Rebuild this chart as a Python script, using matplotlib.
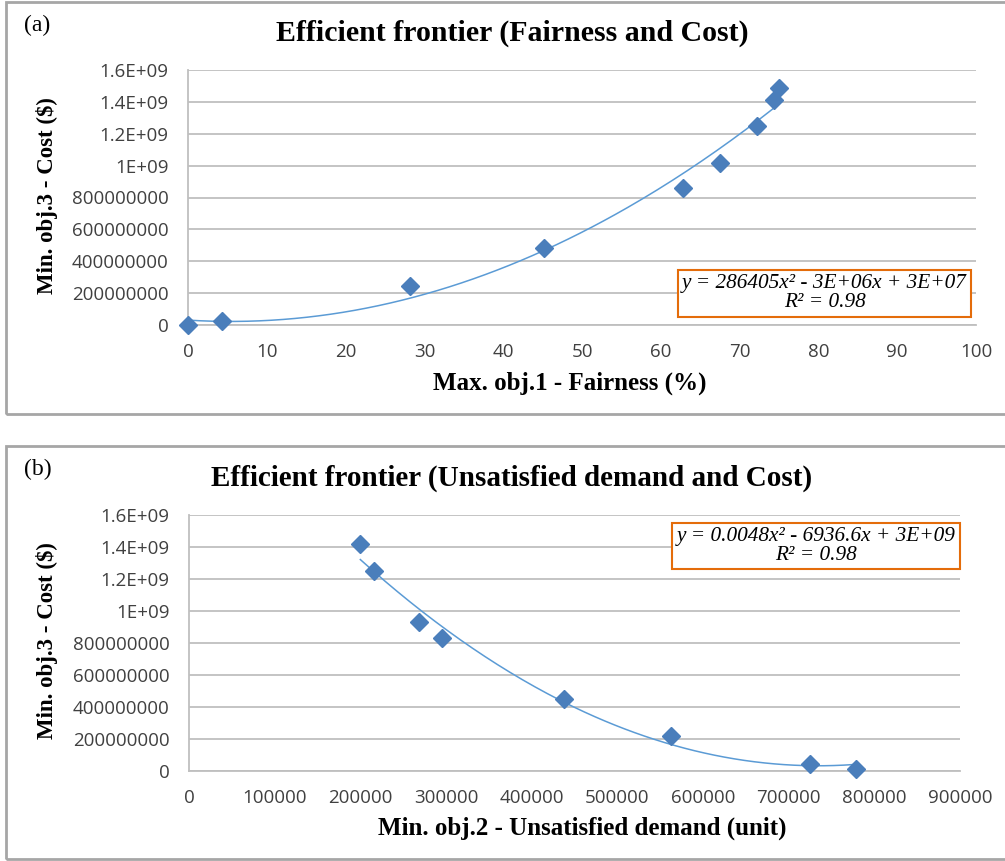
import numpy as np
import matplotlib
matplotlib.use('Agg')
import matplotlib.pyplot as plt
from matplotlib.patches import Rectangle

# Panel (a): fairness vs cost
fair_x = [0, 4.3, 28.2, 45.2, 62.8, 67.5, 72.2, 74.4, 75.0]
fair_cost = [0, 2.5e7, 2.45e8, 4.82e8, 8.6e8, 1.015e9, 1.25e9, 1.41e9, 1.49e9]

# Panel (b): unsatisfied demand vs cost
dem_x = [200000, 216000, 268000, 295000, 438000, 563000, 725000, 779000]
dem_cost = [1.42e9, 1.25e9, 0.93e9, 0.83e9, 0.45e9, 0.22e9, 4.5e7, 1.0e7]

y_ticks = [0, 2e8, 4e8, 6e8, 8e8, 1e9, 1.2e9, 1.4e9, 1.6e9]
y_labels = ['0', '200000000', '400000000', '600000000', '800000000',
            '1E+09', '1.2E+09', '1.4E+09', '1.6E+09']
fair_ticks = list(range(0, 101, 10))
dem_ticks = list(range(0, 900001, 100000))

eq_a = 'y = 286405x² - 3E+06x + 3E+07\nR² = 0.98'
eq_b = 'y = 0.0048x² - 6936.6x + 3E+09\nR² = 0.98'

W, H = 1005, 861
fig = plt.figure(figsize=(W / 100, H / 100), dpi=100)
serif = 'Liberation Serif'
tick_font = 'Open Sans'
grid_c = '#bfbfbf'
mk_c = '#4a7ebb'
line_c = '#5b9bd5'


def fx(px):
    return px / W


def fy(py):
    return 1 - py / H


def box(x0, y0, x1, y1, **kw):
    fig.patches.append(Rectangle((fx(x0), fy(y1)), fx(x1) - fx(x0), fy(y0) - fy(y1),
                                 transform=fig.transFigure, fill=False, **kw))


def panel(rect, xs, ys, xticks, xlim, eq, eq_pos):
    ax = fig.add_axes(rect)
    ax.set_xlim(*xlim)
    ax.set_ylim(0, 1.6e9)
    ax.set_yticks(y_ticks)
    ax.set_yticklabels(y_labels)
    ax.set_xticks(xticks)
    ax.set_xticklabels([str(t) for t in xticks])
    for s in ['top', 'right']:
        ax.spines[s].set_visible(False)
    for s in ['left', 'bottom']:
        ax.spines[s].set_color(grid_c)
        ax.spines[s].set_linewidth(1.3)
    ax.grid(axis='y', color=grid_c, lw=1.3)
    ax.set_axisbelow(True)
    ax.tick_params(length=0, labelsize=13.5, colors='#404040')
    ax.tick_params(axis='y', pad=14)
    ax.tick_params(axis='x', pad=13)
    for lab in ax.get_xticklabels() + ax.get_yticklabels():
        lab.set_fontfamily(tick_font)
    # quadratic trend line
    c = np.polyfit(xs, ys, 2)
    xx = np.linspace(min(xs), max(xs), 200)
    ax.plot(xx, np.polyval(c, xx), color=line_c, lw=1.1, zorder=2)
    ax.plot(xs, ys, 'D', color=mk_c, ms=8.8, zorder=3, clip_on=False)
    ax.text(eq_pos[0], eq_pos[1], eq, transform=ax.transAxes, ha='center', va='center',
            fontfamily=serif, fontstyle='italic', fontsize=15.3, linespacing=1.0,
            bbox=dict(boxstyle='square,pad=0.2', fc='white', ec='#e46c0a', lw=1.5), zorder=4)
    return ax


# panel frames
box(6, 2, 1010, 414, ec='#a6a6a6', lw=2)
box(6, 446, 1010, 859, ec='#a6a6a6', lw=2)

panel([fx(188), fy(325), fx(976) - fx(188), fy(70) - fy(325)],
      fair_x, fair_cost, fair_ticks, (0, 100), eq_a, (0.808, 0.124))
panel([fx(189), fy(771), fx(960) - fx(189), fy(515) - fy(771)],
      dem_x, dem_cost, dem_ticks, (0, 900000), eq_b, (0.813, 0.879))

# titles and labels
fig.text(fx(24), fy(25), '(a)', fontfamily=serif, fontsize=17, va='center')
fig.text(fx(24), fy(469), '(b)', fontfamily=serif, fontsize=17, va='center')
fig.text(fx(512), fy(33), 'Efficient frontier (Fairness and Cost)', fontfamily=serif,
         fontweight='bold', fontsize=21.5, ha='center', va='center')
fig.text(fx(512), fy(478), 'Efficient frontier (Unsatisfied demand and Cost)', fontfamily=serif,
         fontweight='bold', fontsize=21, ha='center', va='center')
fig.text(fx(47), fy(196), 'Min. obj.3 - Cost ($)', fontfamily=serif, fontweight='bold',
         fontsize=16.5, rotation=90, ha='center', va='center')
fig.text(fx(47), fy(641), 'Min. obj.3 - Cost ($)', fontfamily=serif, fontweight='bold',
         fontsize=16.5, rotation=90, ha='center', va='center')
fig.text(fx(570), fy(383), 'Max. obj.1 - Fairness (%)', fontfamily=serif, fontweight='bold',
         fontsize=18, ha='center', va='center')
fig.text(fx(582), fy(828), 'Min. obj.2 - Unsatisfied demand (unit)', fontfamily=serif,
         fontweight='bold', fontsize=18, ha='center', va='center')

fig.savefig('out.png', dpi=100)
